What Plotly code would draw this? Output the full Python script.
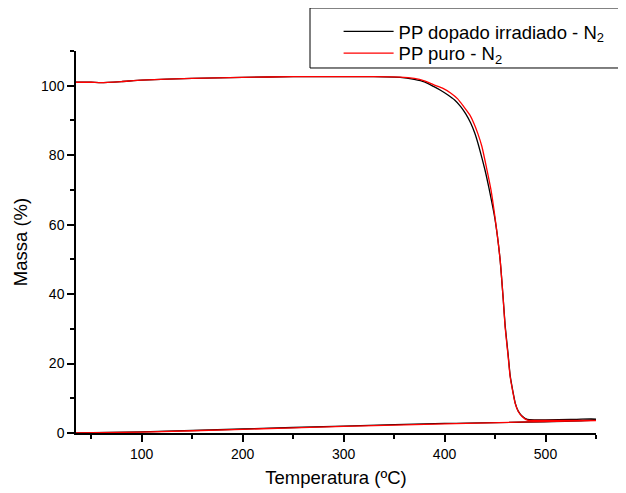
import plotly.graph_objects as go

# Heating curves (temperature in ºC, mass in %), followed by the return segment
t_dopado = [35, 50, 60, 80, 100, 150, 200, 250, 300, 330, 356, 370, 380, 389, 396, 403, 410, 416, 421,
            426, 430, 434, 440, 444, 450, 455, 458, 460, 463, 465, 468, 470, 473, 477, 482, 490, 500,
            525, 550, 550, 400, 300, 200, 100, 35]
m_dopado = [101.0, 101.0, 100.9, 101.2, 101.6, 102.1, 102.4, 102.6, 102.6, 102.6, 102.4, 101.8, 101.1,
            99.8, 98.7, 97.4, 95.9, 94.0, 91.9, 89.2, 86.3, 82.5, 75.8, 70.5, 61.5, 50.0, 39.0, 31.0,
            22.5, 16.5, 11.5, 8.6, 6.3, 4.8, 3.9, 3.8, 3.8, 3.9, 4.0, 3.8, 2.75, 2.0, 1.15, 0.3, 0.0]

t_puro = [35, 50, 60, 80, 100, 150, 200, 250, 300, 330, 356, 370, 380, 389, 398, 406, 413, 419, 425,
          429, 433, 437, 442, 446, 450, 455, 458, 460, 463, 465, 468, 470, 473, 477, 482, 490, 500,
          525, 550, 550, 400, 300, 200, 100, 35]
m_puro = [101.0, 101.0, 100.9, 101.2, 101.6, 102.1, 102.4, 102.6, 102.6, 102.6, 102.5, 102.1, 101.4,
          100.3, 99.3, 97.9, 96.2, 94.0, 91.6, 89.2, 86.2, 82.5, 75.8, 70.0, 62.0, 50.0, 39.0, 30.5,
          22.0, 16.2, 11.3, 8.5, 6.2, 4.7, 3.7, 3.6, 3.6, 3.6, 3.6, 3.6, 2.65, 1.9, 1.05, 0.25, 0.0]

series_names = ["PP dopado irradiado - N<sub>2</sub>", "PP puro - N<sub>2</sub>"]
x_ticks = [100, 200, 300, 400, 500]
y_ticks = [0, 20, 40, 60, 80, 100]

FONT = "Liberation Sans, Arial, sans-serif"

fig = go.Figure()
fig.add_trace(go.Scatter(x=t_dopado, y=m_dopado, mode="lines", name=series_names[0],
                         line=dict(color="black", width=1.3, shape="spline", smoothing=0.5),
                         legend="legend"))
fig.add_trace(go.Scatter(x=t_puro, y=m_puro, mode="lines", name=series_names[1],
                         line=dict(color="red", width=1.3, shape="spline", smoothing=0.5),
                         legend="legend2"))

axis_font = dict(family=FONT, size=14, color="black")
leg_common = dict(xanchor="left", yanchor="top", borderwidth=0, bgcolor="rgba(0,0,0,0)",
                  font=dict(size=18.5, family=FONT, color="black"), itemwidth=50)

# The page body adds an 8px margin, so the figure is 8px smaller and left/top margins are offset.
fig.update_layout(
    width=618, height=485,
    margin=dict(l=68, r=30, t=43, b=60, autoexpand=False),
    paper_bgcolor="white", plot_bgcolor="white",
    font=dict(family=FONT, color="black"),
    showlegend=True,
    legend=dict(x=0.505, y=1.1, **leg_common),
    legend2=dict(x=0.505, y=1.043, **leg_common),
    shapes=[dict(type="rect", xref="paper", yref="paper", x0=0.45, x1=1.054, y0=0.9555, y1=1.1126,
                 line=dict(color="black", width=1), fillcolor="white", layer="below")],
    xaxis=dict(range=[35, 550], tickvals=x_ticks, ticks="outside", ticklen=7, tickwidth=1.5,
               tickcolor="black", showline=True, linecolor="black", linewidth=1.5,
               showgrid=False, zeroline=False, tickfont=axis_font, automargin=False,
               minor=dict(tickvals=[50, 150, 250, 350, 450, 550], ticks="outside", ticklen=4,
                          tickwidth=1.5, tickcolor="black", showgrid=False),
               title=dict(text="Temperatura (ºC)", font=dict(size=18.5, family=FONT), standoff=11)),
    yaxis=dict(range=[0, 110], tickvals=y_ticks, ticks="outside", ticklen=7, tickwidth=1.5,
               tickcolor="black", showline=True, linecolor="black", linewidth=1.5,
               showgrid=False, zeroline=False, tickfont=axis_font, automargin=False,
               minor=dict(tickvals=[10, 30, 50, 70, 90, 110], ticks="outside", ticklen=4,
                          tickwidth=1.5, tickcolor="black", showgrid=False),
               title=dict(text="Massa (%)", font=dict(size=18.5, family=FONT), standoff=9)),
)

fig.write_html("out.html")
